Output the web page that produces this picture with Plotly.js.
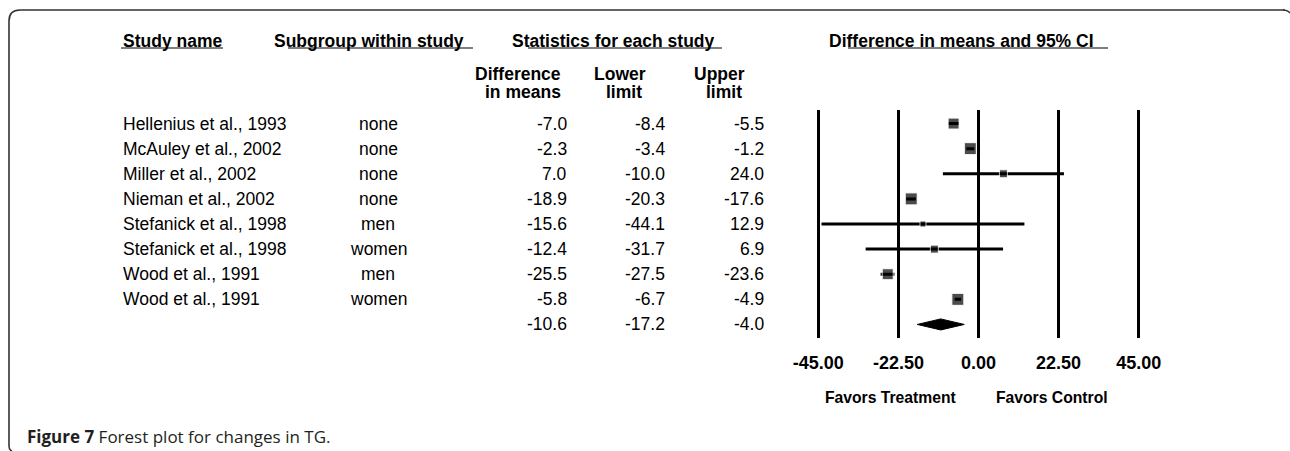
<!DOCTYPE html>
<html>
<head>
<meta charset="utf-8">
<script src="https://cdn.plot.ly/plotly-3.0.1.min.js"></script>
<style>html,body{margin:0;padding:0;background:#fff;}#chart{width:1290px;height:451px;}</style>
</head>
<body>
<div id="chart"></div>
<script>
// ---- data ----
const studyNames = ["Hellenius et al., 1993", "McAuley et al., 2002", "Miller et al., 2002", "Nieman et al., 2002",
  "Stefanick et al., 1998", "Stefanick et al., 1998", "Wood et al., 1991", "Wood et al., 1991"];
const subgroups = ["none", "none", "none", "none", "men", "women", "men", "women"];
const diffMeans = [-7.0, -2.3, 7.0, -18.9, -15.6, -12.4, -25.5, -5.8];
const lowerLimits = [-8.4, -3.4, -10.0, -20.3, -44.1, -31.7, -27.5, -6.7];
const upperLimits = [-5.5, -1.2, 24.0, -17.6, 12.9, 6.9, -23.6, -4.9];
const pooledDiff = -10.6;
const pooledLower = -17.2;
const pooledUpper = -4.0;
const tickValues = [-45, -22.5, 0, 22.5, 45];
const tickLabels = ["-45.00", "-22.50", "0.00", "22.50", "45.00"];

// ---- styles ----
const boxSizes = [11, 12, 8, 12, 6, 8, 11, 12];
const W = 1290, H = 451;
const px = x => x / W;
const py = y => 1 - y / H;
const FONT = "Liberation Sans, Arial, sans-serif";
const bodySize = 17.5;

const rows = studyNames.map((_, i) => i);
const pooledRow = studyNames.length;

const traces = [
  {
    type: "scatter", mode: "markers",
    x: diffMeans, y: rows,
    marker: { symbol: "square", size: boxSizes, color: "#000" },
    error_x: {
      type: "data", symmetric: false,
      array: diffMeans.map((m, i) => upperLimits[i] - m),
      arrayminus: diffMeans.map((m, i) => m - lowerLimits[i]),
      width: 0, thickness: 3, color: "#000"
    },
    hoverinfo: "skip", showlegend: false
  },
  {
    type: "scatter", mode: "lines",
    x: [pooledLower, pooledDiff, pooledUpper, pooledDiff, pooledLower],
    y: [pooledRow, pooledRow - 0.22, pooledRow, pooledRow + 0.22, pooledRow],
    fill: "toself", fillcolor: "#000", line: { color: "#000", width: 1 },
    hoverinfo: "skip", showlegend: false
  }
];

const annotations = [];
function txt(x, y, text, opts) {
  annotations.push(Object.assign({
    xref: "paper", yref: "paper", x: px(x), y: py(y), text: text,
    showarrow: false, xanchor: "left", yanchor: "middle",
    font: { family: FONT, size: bodySize, color: "#000" }
  }, opts || {}));
}
function rowTxt(x, row, text, anchor) {
  annotations.push({
    xref: "paper", yref: "y", x: px(x), y: row, text: text,
    showarrow: false, xanchor: anchor, yanchor: "middle",
    font: { family: FONT, size: bodySize, color: "#000" }
  });
}

studyNames.forEach((name, i) => {
  rowTxt(121, i, name, "left");
  rowTxt(378, i, subgroups[i], "center");
  rowTxt(569, i, diffMeans[i].toFixed(1), "right");
  rowTxt(667, i, lowerLimits[i].toFixed(1), "right");
  rowTxt(766, i, upperLimits[i].toFixed(1), "right");
});
rowTxt(569, pooledRow, pooledDiff.toFixed(1), "right");
rowTxt(667, pooledRow, pooledLower.toFixed(1), "right");
rowTxt(766, pooledRow, pooledUpper.toFixed(1), "right");

const boldFont = { family: FONT, size: bodySize, color: "#000", weight: "bold" };
txt(121, 41, "Study name", { font: boldFont });
txt(272, 41, "Subgroup within study", { font: boldFont });
txt(510, 41, "Statistics for each study", { font: boldFont });
txt(827, 41, "Difference in means and 95% CI", { font: boldFont });
txt(563, 74, "Difference", { font: boldFont, xanchor: "right" });
txt(563, 92, "in means", { font: boldFont, xanchor: "right" });
txt(620, 74, "Lower", { font: boldFont, xanchor: "center" });
txt(624, 92, "limit", { font: boldFont, xanchor: "center" });
txt(719, 74, "Upper", { font: boldFont, xanchor: "center" });
txt(724, 92, "limit", { font: boldFont, xanchor: "center" });
txt(891, 397, "Favors Treatment", { font: { family: FONT, size: 15.7, color: "#000", weight: "bold" }, xanchor: "center" });
txt(1052, 397, "Favors Control", { font: { family: FONT, size: 15.7, color: "#000", weight: "bold" }, xanchor: "center" });
txt(25, 436, "<b>Figure 7</b> Forest plot for changes in TG.",
  { font: { family: "Open Sans, Noto Sans, sans-serif", size: 17, color: "#231f20" } });

const ulStyle = { color: "#555", width: 1.6 };
const shapes = [
  { type: "line", xref: "paper", yref: "paper", x0: px(121), x1: px(223), y0: py(48), y1: py(48), line: ulStyle },
  { type: "line", xref: "paper", yref: "paper", x0: px(288), x1: px(473), y0: py(48), y1: py(48), line: ulStyle },
  { type: "line", xref: "paper", yref: "paper", x0: px(528), x1: px(722), y0: py(48), y1: py(48), line: ulStyle },
  { type: "line", xref: "paper", yref: "paper", x0: px(848), x1: px(1108), y0: py(48), y1: py(48), line: ulStyle },
  {
    type: "path", xref: "paper", yref: "paper",
    path: `M ${px(1285)} ${py(10)} L ${px(20)} ${py(10)} Q ${px(9)} ${py(10)} ${px(9)} ${py(21)} L ${px(9)} ${py(446)} Q ${px(9)} ${py(450)} ${px(12)} ${py(451)}`,
    line: { color: "#333", width: 1.6 }
  },
  {
    type: "path", xref: "paper", yref: "paper",
    path: `M ${px(1283)} ${py(10)} Q ${px(1288)} ${py(10)} ${px(1290)} ${py(13)}`,
    line: { color: "#333", width: 1.6 }
  }
];

const xPad = 2;
const unitPx = (1138.7 - 818.3) / 90;
const layout = {
  width: W, height: H,
  margin: { l: 0, r: 0, t: 0, b: 0, pad: 0 },
  paper_bgcolor: "#fff", plot_bgcolor: "#fff",
  showlegend: false,
  xaxis: {
    domain: [px(818.3 - xPad * unitPx), px(1138.7 + xPad * unitPx)],
    range: [tickValues[0] - xPad, tickValues[tickValues.length - 1] + xPad],
    tickmode: "array", tickvals: tickValues, ticktext: tickLabels,
    showgrid: true, gridcolor: "#000", gridwidth: 3,
    zeroline: false, showline: false, ticks: "",
    ticklabelstandoff: 12,
    tickfont: { family: FONT, size: 18, color: "#000", weight: "bold" },
    fixedrange: true
  },
  yaxis: {
    domain: [py(338), py(110)],
    range: [pooledRow + 0.54, -0.54],
    showgrid: false, zeroline: false, showline: false,
    showticklabels: false, ticks: "", fixedrange: true
  },
  annotations: annotations,
  shapes: shapes
};

Plotly.newPlot("chart", traces, layout, { staticPlot: true, displayModeBar: false });
</script>
</body>
</html>
